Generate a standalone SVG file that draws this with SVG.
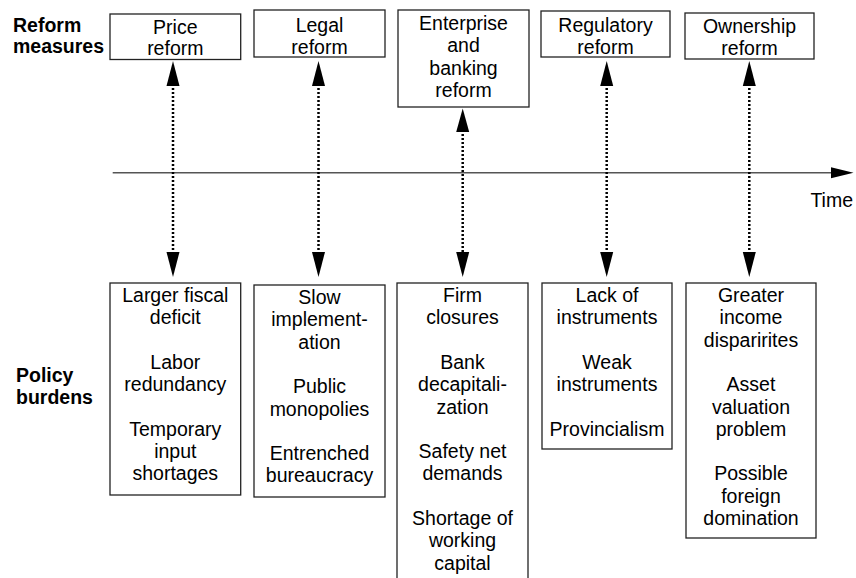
<svg xmlns="http://www.w3.org/2000/svg" width="856" height="578" viewBox="0 0 856 578">
<defs>
<style>
.box{fill:#fff;stroke:#222;stroke-width:1.3}
.t{font-family:"Liberation Sans",Arial,sans-serif;font-size:19.5px;fill:#000;text-anchor:middle}
.lbl{font-family:"Liberation Sans",Arial,sans-serif;font-size:19.5px;font-weight:bold;fill:#000}
.dot{stroke:#000;stroke-width:2.5;stroke-dasharray:2 2;fill:none}
.axis{stroke:#555;stroke-width:1.6;fill:none}
.head{fill:#000}
</style>
</defs>
<rect width="856" height="578" fill="#fff"/>
<g id="label-reform">
<text class="lbl" x="13" y="32">Reform</text>
<text class="lbl" x="13" y="53">measures</text>
</g>
<g id="label-policy">
<text class="lbl" x="16" y="382">Policy</text>
<text class="lbl" x="16" y="404">burdens</text>
</g>
<g id="price-reform">
<rect class="box" x="110" y="14" width="130.7" height="45.5"/>
<text class="t" x="175.3" y="33.5">Price</text>
<text class="t" x="175.3" y="55">reform</text>
</g>
<g id="legal-reform">
<rect class="box" x="254" y="10" width="131" height="47"/>
<text class="t" x="319.5" y="32">Legal</text>
<text class="t" x="319.5" y="53.5">reform</text>
</g>
<g id="enterprise-reform">
<rect class="box" x="398" y="10" width="131" height="97"/>
<text class="t" x="463.5" y="30">Enterprise</text>
<text class="t" x="463.5" y="52.3">and</text>
<text class="t" x="463.5" y="74.6">banking</text>
<text class="t" x="463.5" y="96.9">reform</text>
</g>
<g id="regulatory-reform">
<rect class="box" x="541" y="11" width="129" height="46"/>
<text class="t" x="605.5" y="32">Regulatory</text>
<text class="t" x="605.5" y="53.5">reform</text>
</g>
<g id="ownership-reform">
<rect class="box" x="685" y="13" width="129" height="46"/>
<text class="t" x="749.5" y="33">Ownership</text>
<text class="t" x="749.5" y="54.5">reform</text>
</g>
<g id="time-axis">
<line class="axis" x1="112.7" y1="172.7" x2="832" y2="172.7"/>
<polygon class="head" points="831,167.2 853.5,172.7 831,178.2"/>
<text class="t" x="853" y="206.7" style="text-anchor:end">Time</text>
</g>
<g id="connectors">
<line class="dot" x1="173" y1="84" x2="173" y2="253"/>
<polygon class="head" points="173,61 166.5,86 179.5,86"/>
<polygon class="head" points="173,277 166.5,252 179.5,252"/>
<line class="dot" x1="318.5" y1="84" x2="318.5" y2="253"/>
<polygon class="head" points="318.5,61 312,86 325,86"/>
<polygon class="head" points="318.5,277 312,252 325,252"/>
<line class="dot" x1="462.7" y1="130" x2="462.7" y2="253"/>
<polygon class="head" points="462.7,108.5 456.2,132 469.2,132"/>
<polygon class="head" points="462.7,277 456.2,252 469.2,252"/>
<line class="dot" x1="606.7" y1="84" x2="606.7" y2="253"/>
<polygon class="head" points="606.7,61 600.2,86 613.2,86"/>
<polygon class="head" points="606.7,277 600.2,252 613.2,252"/>
<line class="dot" x1="749.3" y1="84" x2="749.3" y2="253"/>
<polygon class="head" points="749.3,61 742.8,86 755.8,86"/>
<polygon class="head" points="749.3,277 742.8,252 755.8,252"/>
</g>
<g id="burden-price">
<rect class="box" x="110" y="283" width="130.7" height="212"/>
<text class="t" x="175.3" y="302">Larger fiscal</text>
<text class="t" x="175.3" y="324.3">deficit</text>
<text class="t" x="175.3" y="368.9">Labor</text>
<text class="t" x="175.3" y="391.2">redundancy</text>
<text class="t" x="175.3" y="435.8">Temporary</text>
<text class="t" x="175.3" y="458.1">input</text>
<text class="t" x="175.3" y="480.4">shortages</text>
</g>
<g id="burden-legal">
<rect class="box" x="254" y="285" width="131" height="212"/>
<text class="t" x="319.5" y="304">Slow</text>
<text class="t" x="319.5" y="326.3">implement-</text>
<text class="t" x="319.5" y="348.6">ation</text>
<text class="t" x="319.5" y="393.2">Public</text>
<text class="t" x="319.5" y="415.5">monopolies</text>
<text class="t" x="319.5" y="460.1">Entrenched</text>
<text class="t" x="319.5" y="482.4">bureaucracy</text>
</g>
<g id="burden-enterprise">
<rect class="box" x="397" y="283" width="131" height="310"/>
<text class="t" x="462.5" y="302">Firm</text>
<text class="t" x="462.5" y="324.3">closures</text>
<text class="t" x="462.5" y="368.9">Bank</text>
<text class="t" x="462.5" y="391.2">decapitali-</text>
<text class="t" x="462.5" y="413.5">zation</text>
<text class="t" x="462.5" y="458.1">Safety net</text>
<text class="t" x="462.5" y="480.4">demands</text>
<text class="t" x="462.5" y="525">Shortage of</text>
<text class="t" x="462.5" y="547.3">working</text>
<text class="t" x="462.5" y="569.6">capital</text>
</g>
<g id="burden-regulatory">
<rect class="box" x="542" y="283" width="130" height="166"/>
<text class="t" x="607" y="302">Lack of</text>
<text class="t" x="607" y="324.3">instruments</text>
<text class="t" x="607" y="368.9">Weak</text>
<text class="t" x="607" y="391.2">instruments</text>
<text class="t" x="607" y="435.8">Provincialism</text>
</g>
<g id="burden-ownership">
<rect class="box" x="686" y="283" width="130" height="255"/>
<text class="t" x="751" y="302">Greater</text>
<text class="t" x="751" y="324.3">income</text>
<text class="t" x="751" y="346.6">disparirites</text>
<text class="t" x="751" y="391.2">Asset</text>
<text class="t" x="751" y="413.5">valuation</text>
<text class="t" x="751" y="435.8">problem</text>
<text class="t" x="751" y="480.4">Possible</text>
<text class="t" x="751" y="502.7">foreign</text>
<text class="t" x="751" y="525">domination</text>
</g>
</svg>
